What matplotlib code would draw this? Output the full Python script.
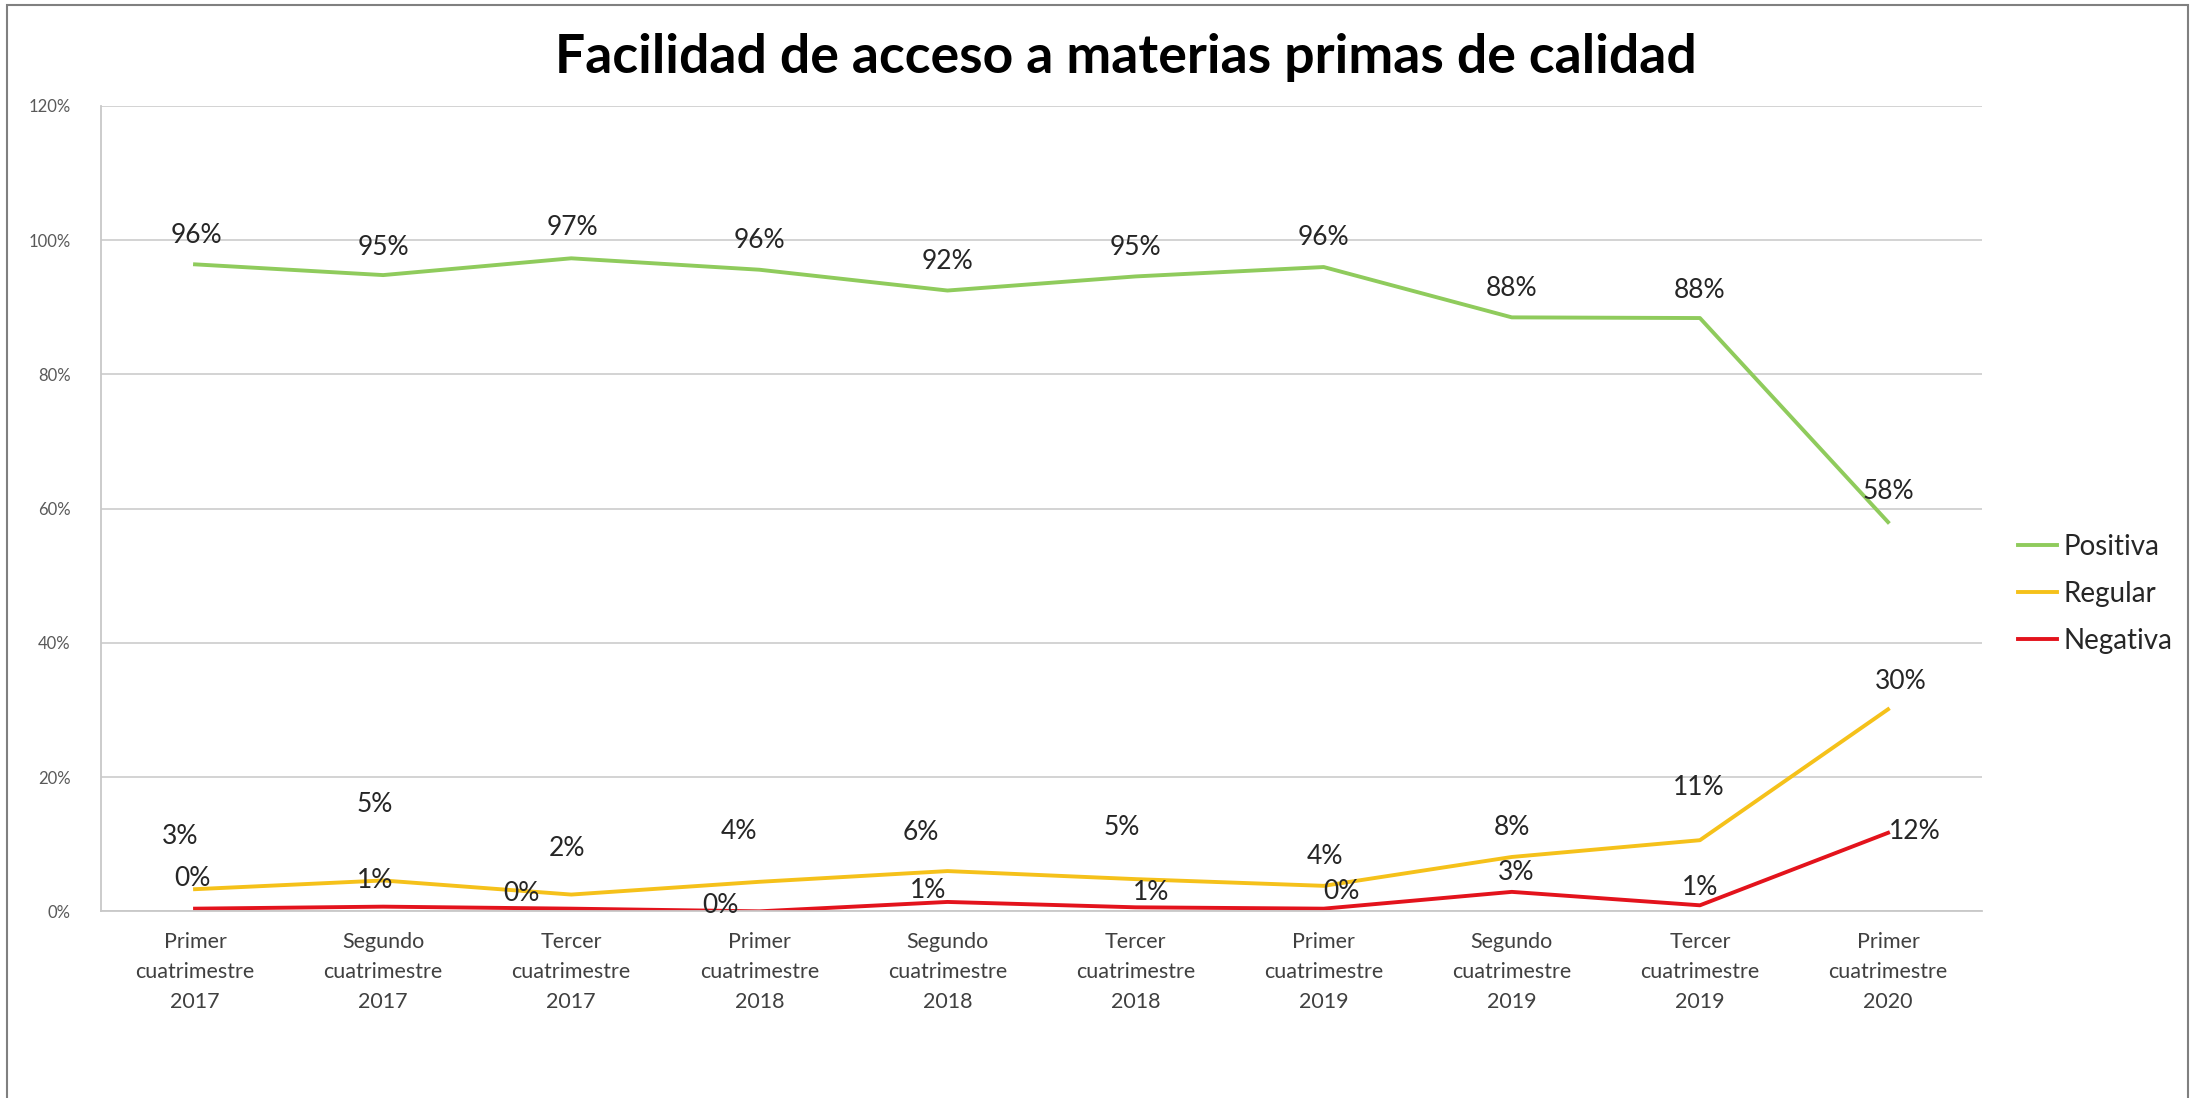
import matplotlib.pyplot as plt
from matplotlib.patches import Rectangle
from matplotlib.ticker import PercentFormatter

plt.rcParams['font.family'] = ['Lato', 'DejaVu Sans']

# periodos (eje x)
periodos = ["Primer\ncuatrimestre\n2017", "Segundo\ncuatrimestre\n2017", "Tercer\ncuatrimestre\n2017",
            "Primer\ncuatrimestre\n2018", "Segundo\ncuatrimestre\n2018", "Tercer\ncuatrimestre\n2018",
            "Primer\ncuatrimestre\n2019", "Segundo\ncuatrimestre\n2019", "Tercer\ncuatrimestre\n2019",
            "Primer\ncuatrimestre\n2020"]

# valores (%)
positiva = [96.4, 94.8, 97.3, 95.6, 92.5, 94.6, 96.0, 88.5, 88.4, 58.0]
regular = [3.3, 4.6, 2.5, 4.4, 6.0, 4.8, 3.8, 8.1, 10.6, 30.1]
negativa = [0.4, 0.7, 0.4, 0.0, 1.4, 0.6, 0.4, 2.9, 0.9, 11.7]

# desplazamiento de las etiquetas (puntos)
off_pos = [(1, 21), (0, 20), (1, 22), (0, 21), (0, 21), (0, 21), (0, 21), (0, 21), (0, 20), (0, 22)]
off_reg = [(-11, 38), (-6, 55), (-3, 33), (-15, 36), (-19, 28), (-10, 37), (1, 21), (0, 21), (-1, 38), (9, 20)]
off_neg = [(-2, 22), (-6, 19), (-36, 11), (-28, 4), (-14, 8), (11, 11), (13, 12), (3, 14), (0, 13), (19, 1)]

series = [("Positiva", positiva, "#8FCB5C", off_pos),
          ("Regular", regular, "#F5C11A", off_reg),
          ("Negativa", negativa, "#E3131C", off_neg)]

fig = plt.figure(figsize=(21.95, 10.98), dpi=100)
ax = fig.add_axes([0.046, 0.170, 0.857, 0.7335])

x = list(range(len(periodos)))
for nombre, vals, color, offs in series:
    ax.plot(x, vals, color=color, lw=2.8, label=nombre, solid_joinstyle='round')
    for xi, v, o in zip(x, vals, offs):
        ax.annotate(f"{round(v):.0f}%", (xi, v), xytext=o, textcoords='offset points',
                    ha='center', va='center', fontsize=19, color='#262626')

ax.set_xlim(-0.5, len(periodos) - 0.5)
ax.set_ylim(0, 120)
ax.set_yticks(range(0, 121, 20))
ax.yaxis.set_major_formatter(PercentFormatter(decimals=0))
ax.set_xticks(x)
ax.set_xticklabels(periodos, fontsize=15.5, color='#404040', linespacing=1.62)
ax.tick_params(axis='y', labelsize=12, colors='#595959', length=0, pad=22)
ax.tick_params(axis='x', length=0, pad=15)
ax.grid(axis='y', color='#D0D0D0', lw=1.3)
ax.set_axisbelow(True)
for s in ['top', 'right']:
    ax.spines[s].set_visible(False)
ax.spines['left'].set_color('#C8C8C8')
ax.spines['bottom'].set_color('#C8C8C8')
ax.spines['left'].set_linewidth(1.3)
ax.spines['bottom'].set_linewidth(1.3)

fig.text(0.513, 0.948, "Facilidad de acceso a materias primas de calidad",
         ha='center', va='center', fontsize=38.5, fontweight='bold', color='#000000')

fig.legend(loc='center left', bbox_to_anchor=(0.908, 0.459), frameon=False,
           fontsize=20, handlelength=1.4, handletextpad=0.25, labelspacing=0.75,
           labelcolor='#262626')

fig.patches.append(Rectangle((0.003, -0.01), 0.994, 1.005, transform=fig.transFigure,
                             fill=False, edgecolor='#808080', lw=1.5))

fig.savefig("out.png", dpi=100)
